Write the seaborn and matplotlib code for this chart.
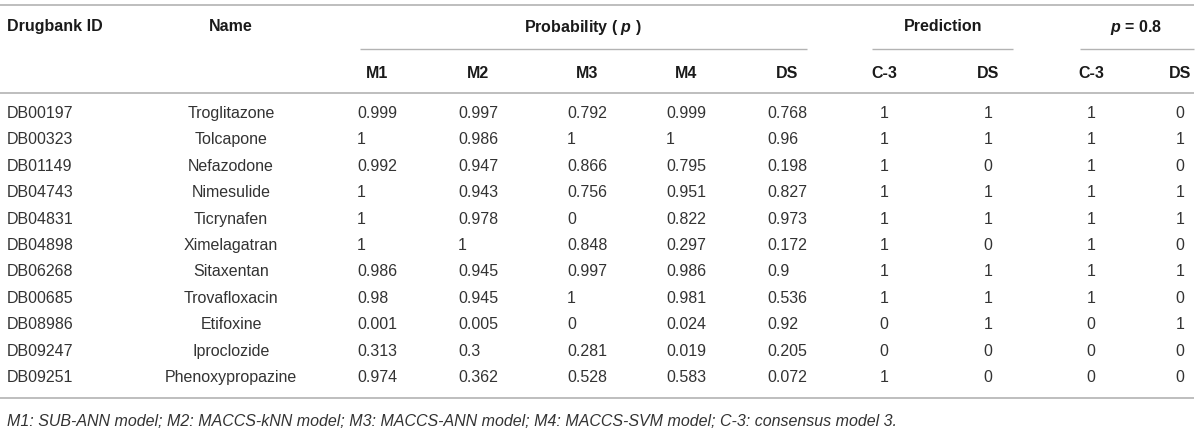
import numpy as np
import pandas as pd
import matplotlib
matplotlib.use("Agg")
import matplotlib.pyplot as plt
import seaborn as sns

# ----------------------------- DATA -----------------------------
drug_ids = ["DB00197", "DB00323", "DB01149", "DB04743", "DB04831", "DB04898",
            "DB06268", "DB00685", "DB08986", "DB09247", "DB09251"]
names = ["Troglitazone", "Tolcapone", "Nefazodone", "Nimesulide", "Ticrynafen",
         "Ximelagatran", "Sitaxentan", "Trovafloxacin", "Etifoxine", "Iproclozide",
         "Phenoxypropazine"]
m1 = [0.999, 1, 0.992, 1, 1, 1, 0.986, 0.98, 0.001, 0.313, 0.974]
m2 = [0.997, 0.986, 0.947, 0.943, 0.978, 1, 0.945, 0.945, 0.005, 0.3, 0.362]
m3 = [0.792, 1, 0.866, 0.756, 0, 0.848, 0.997, 1, 0, 0.281, 0.528]
m4 = [0.999, 1, 0.795, 0.951, 0.822, 0.297, 0.986, 0.981, 0.024, 0.019, 0.583]
ds = [0.768, 0.96, 0.198, 0.827, 0.973, 0.172, 0.9, 0.536, 0.92, 0.205, 0.072]
pred_c3 = [1, 1, 1, 1, 1, 1, 1, 1, 0, 0, 1]
pred_ds = [1, 1, 0, 1, 1, 0, 1, 1, 1, 0, 0]
p08_c3 = [1, 1, 1, 1, 1, 1, 1, 1, 0, 0, 0]
p08_ds = [0, 1, 0, 1, 1, 0, 1, 0, 1, 0, 0]

footnote = ("M1: SUB-ANN model; M2: MACCS-kNN model; M3: MACCS-ANN model; "
            "M4: MACCS-SVM model; C-3: consensus model 3.")

df = pd.DataFrame({"id": drug_ids, "name": names, "m1": m1, "m2": m2, "m3": m3,
                   "m4": m4, "ds": ds, "pc3": pred_c3, "pds": pred_ds,
                   "qc3": p08_c3, "qds": p08_ds})

# ----------------------------- LAYOUT -----------------------------
W, H = 1200, 429
HEAD_COL = "#1a1a1a"
TXT_COL = "#333333"
RULE_COL = "#b3b3b3"
FS = 11.5
VA = "center_baseline"

# column: (key, header, x, align of values)
columns = [
    ("id", "Drugbank ID", 7, "left"),
    ("name", "Name", 231, "center"),
    ("m1", "M1", 357, "left"),
    ("m2", "M2", 458, "left"),
    ("m3", "M3", 567, "left"),
    ("m4", "M4", 666, "left"),
    ("ds", "DS", 767, "left"),
    ("pc3", "C-3", 884, "center"),
    ("pds", "DS", 988, "center"),
    ("qc3", "C-3", 1091, "center"),
    ("qds", "DS", 1180, "center"),
]

sns.set_theme(style="white")
plt.rcParams["font.family"] = ["Liberation Sans", "DejaVu Sans"]
plt.rcParams["mathtext.fontset"] = "custom"
plt.rcParams["mathtext.it"] = "Liberation Sans:italic:bold"
plt.rcParams["mathtext.rm"] = "Liberation Sans:bold"

fig = plt.figure(figsize=(W / 100, H / 100), dpi=100)
ax = fig.add_axes([0, 0, 1, 1])
ax.set_xlim(0, W)
ax.set_ylim(H, 0)
ax.axis("off")

# rules
ax.hlines([5, 93, 398], 0, 1194, color=RULE_COL, lw=1.2)
ax.hlines(49, 360, 807, color=RULE_COL, lw=1.0)
ax.hlines(49, 872, 1013, color=RULE_COL, lw=1.0)
ax.hlines(49, 1080, 1194, color=RULE_COL, lw=1.0)

# group headers
y_top, y_sub = 25, 72
ax.text(7, y_top, "Drugbank ID", ha="left", va=VA, fontsize=FS,
        fontweight="bold", color=HEAD_COL)
ax.text(231, y_top, "Name", ha="center", va=VA, fontsize=FS,
        fontweight="bold", color=HEAD_COL)
ax.text(583, y_top, r"Probability ( $p$ )", ha="center", va=VA, fontsize=FS,
        fontweight="bold", color=HEAD_COL)
ax.text(943, y_top, "Prediction", ha="center", va=VA, fontsize=FS,
        fontweight="bold", color=HEAD_COL)
ax.text(1136, y_top, r"$p$ = 0.8", ha="center", va=VA, fontsize=FS,
        fontweight="bold", color=HEAD_COL)

# sub headers
for key, label, x, align in columns[2:]:
    hx = x + 20 if align == "left" else x
    ax.text(hx, y_sub, label, ha="center", va=VA, fontsize=FS,
            fontweight="bold", color=HEAD_COL)

# body
row_y0, row_dy = 112, 26.4
for i, row in df.iterrows():
    y = row_y0 + i * row_dy
    for key, label, x, align in columns:
        val = row[key]
        s = val if isinstance(val, str) else f"{val:g}"
        ax.text(x, y, s, ha=align, va=VA, fontsize=FS, color=TXT_COL)

ax.text(7, 420, footnote, ha="left", va=VA, fontsize=FS, style="italic",
        color=TXT_COL)

fig.savefig("out.png", dpi=100)
